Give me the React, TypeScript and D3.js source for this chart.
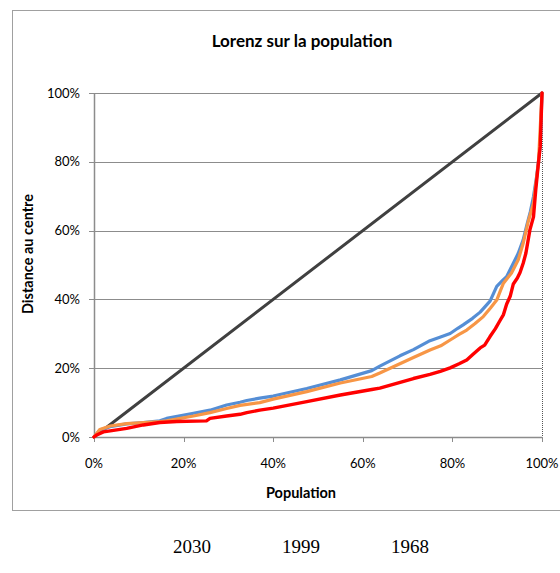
import React from "react";
import * as d3 from "d3";

// Cumulative population share (%) and cumulative distance share (%) per series
const blueX = [0, 1.3, 3.6, 7.3, 11, 14.7, 16.2, 22.2, 25.9, 29.6, 32.6, 34.1, 37, 40, 47.5, 55, 62, 63.8, 68.3, 71.3, 75, 77.2, 79.5, 81.2, 82.4, 84.5, 86.2, 88.4, 89.9, 91.2, 92.1, 93.6, 94.7, 95.8, 96.6, 97.4, 98.1, 98.8, 99.6, 100];
const blueY = [0, 2, 3, 3.8, 4.2, 4.7, 5.4, 6.9, 7.8, 9.3, 10.1, 10.6, 11.3, 11.9, 14.1, 16.6, 19.3, 20.6, 23.6, 25.4, 28, 29, 30.1, 31.6, 32.6, 34.5, 36.3, 39.5, 43.8, 45.5, 46.6, 50.5, 53.4, 57.3, 61.5, 65.5, 69.9, 75.7, 84.4, 100];

const orangeX = [0, 1.3, 3.6, 7.3, 11, 14.7, 16.2, 22.2, 25.9, 29.6, 32.6, 37, 40, 47.5, 55, 62, 63.8, 71.3, 75, 77.4, 79.5, 81.5, 83.2, 85, 86.9, 88.5, 89.9, 90.7, 91.4, 93.2, 94.7, 95.8, 96.9, 98.1, 99.2, 100];
const orangeY = [0, 2.2, 3.2, 3.9, 4.2, 4.5, 4.7, 6.1, 7.1, 8.3, 9.2, 10, 11, 13.2, 15.7, 17.6, 18.6, 23.1, 25.3, 26.5, 28.2, 29.8, 31.1, 32.9, 35, 37.5, 39.8, 42.5, 44.7, 47.7, 51.5, 56.3, 62.5, 68, 79.6, 100];

const redX = [0, 0.6, 2.1, 3.6, 7.3, 11, 14.7, 18.5, 25.1, 25.9, 29.6, 32.6, 34.1, 37, 40, 47.5, 55, 62, 63.8, 71.3, 75, 77.3, 79.5, 81.5, 83.2, 84.8, 86.2, 87.2, 88.4, 89.6, 90.6, 91.4, 92.1, 92.9, 93.6, 94.5, 95.1, 95.8, 96.4, 97.3, 98.1, 98.6, 99.2, 99.6, 100];
const redY = [0, 0.6, 1.5, 1.8, 2.5, 3.5, 4.2, 4.5, 4.7, 5.4, 6.1, 6.6, 7.1, 7.8, 8.4, 10.3, 12.2, 13.8, 14.2, 17, 18.2, 19.1, 20.1, 21.3, 22.4, 24.3, 25.9, 26.7, 29.2, 31.5, 33.8, 35.6, 38.6, 40.9, 44.5, 46.2, 47.8, 50.5, 53.4, 60.2, 64, 71.8, 79.6, 84.4, 100];

const equalityX = [0, 100];
const equalityY = [0, 100];

const xTicks = [0, 20, 40, 60, 80, 100];
const yTicks = [0, 20, 40, 60, 80, 100];
const yearLabels = ["2030", "1999", "1968"];

const W = 560;
const H = 573;
const plot = { left: 94, right: 542, top: 93, bottom: 437 };

const sans = "Lato, 'Open Sans', sans-serif";

export default function App() {
  const x = d3.scaleLinear().domain([0, 100]).range([plot.left, plot.right]);
  const y = d3.scaleLinear().domain([0, 100]).range([plot.bottom, plot.top]);

  const line = d3
    .line<[number, number]>()
    .x((d) => x(d[0]))
    .y((d) => y(d[1]));

  const pairs = (xs: number[], ys: number[]) =>
    xs.map((v, i) => [v, ys[i]] as [number, number]);

  const series = [
    { xs: equalityX, ys: equalityY, color: "#404040", width: 3 },
    { xs: blueX, ys: blueY, color: "#558ed5", width: 3.2 },
    { xs: orangeX, ys: orangeY, color: "#f79646", width: 3.2 },
    { xs: redX, ys: redY, color: "#ff0000", width: 3.4 },
  ];

  const yearX = d3.scalePoint<string>().domain(yearLabels).range([192, 410]);

  return (
    <svg
      width={W}
      height={H}
      style={{ position: "absolute", left: 0, top: 0, background: "#fff" }}
    >
      {/* chart frame */}
      <rect x={12.5} y={10.5} width={W} height={500} fill="none" stroke="#a0a0a0" strokeWidth={1} />

      <text x={302} y={47} textAnchor="middle" fontFamily={sans} fontWeight="bold" fontSize={17} fill="#000">
        Lorenz sur la population
      </text>

      {/* horizontal gridlines and y ticks */}
      {yTicks.map((t) => (
        <g key={"y" + t}>
          <line x1={plot.left - 5} x2={plot.right} y1={Math.round(y(t)) + 0.5} y2={Math.round(y(t)) + 0.5} stroke="#8c8c8c" strokeWidth={1} />
          <text x={80} y={y(t) + 4.5} textAnchor="end" fontFamily={sans} fontSize={13} fill="#000">
            {t}%
          </text>
        </g>
      ))}

      {/* x ticks */}
      {xTicks.map((t) => (
        <g key={"x" + t}>
          <line x1={Math.round(x(t)) + 0.5} x2={Math.round(x(t)) + 0.5} y1={plot.bottom} y2={plot.bottom + 5} stroke="#8c8c8c" strokeWidth={1} />
          <text x={x(t)} y={468} textAnchor="middle" fontFamily={sans} fontSize={13} fill="#000">
            {t}%
          </text>
        </g>
      ))}

      {/* y axis */}
      <line x1={plot.left + 0.5} x2={plot.left + 0.5} y1={plot.top} y2={plot.bottom} stroke="#8c8c8c" strokeWidth={1.5} />
      {/* x axis */}
      <line x1={plot.left} x2={plot.right} y1={plot.bottom + 0.5} y2={plot.bottom + 0.5} stroke="#8c8c8c" strokeWidth={1.5} />
      {/* dotted marker at 100% */}
      <line x1={plot.right + 0.5} x2={plot.right + 0.5} y1={plot.top} y2={plot.bottom} stroke="#555" strokeWidth={1} strokeDasharray="1,1" />

      {series.map((s, i) => (
        <path
          key={i}
          d={line(pairs(s.xs, s.ys)) || ""}
          fill="none"
          stroke={s.color}
          strokeWidth={s.width}
          strokeLinejoin="round"
          strokeLinecap="round"
        />
      ))}

      <text x={301} y={498} textAnchor="middle" fontFamily={sans} fontWeight="bold" fontSize={14.5} fill="#000">
        Population
      </text>
      <text
        transform={`translate(33,254) rotate(-90)`}
        textAnchor="middle"
        fontFamily={sans}
        fontWeight="bold"
        fontSize={14.5}
        fill="#000"
      >
        Distance au centre
      </text>

      {yearLabels.map((lab) => (
        <text key={lab} x={yearX(lab)} y={553} textAnchor="middle" fontFamily="'Liberation Serif', 'Times New Roman', serif" fontSize={19} fill="#000">
          {lab}
        </text>
      ))}
    </svg>
  );
}
